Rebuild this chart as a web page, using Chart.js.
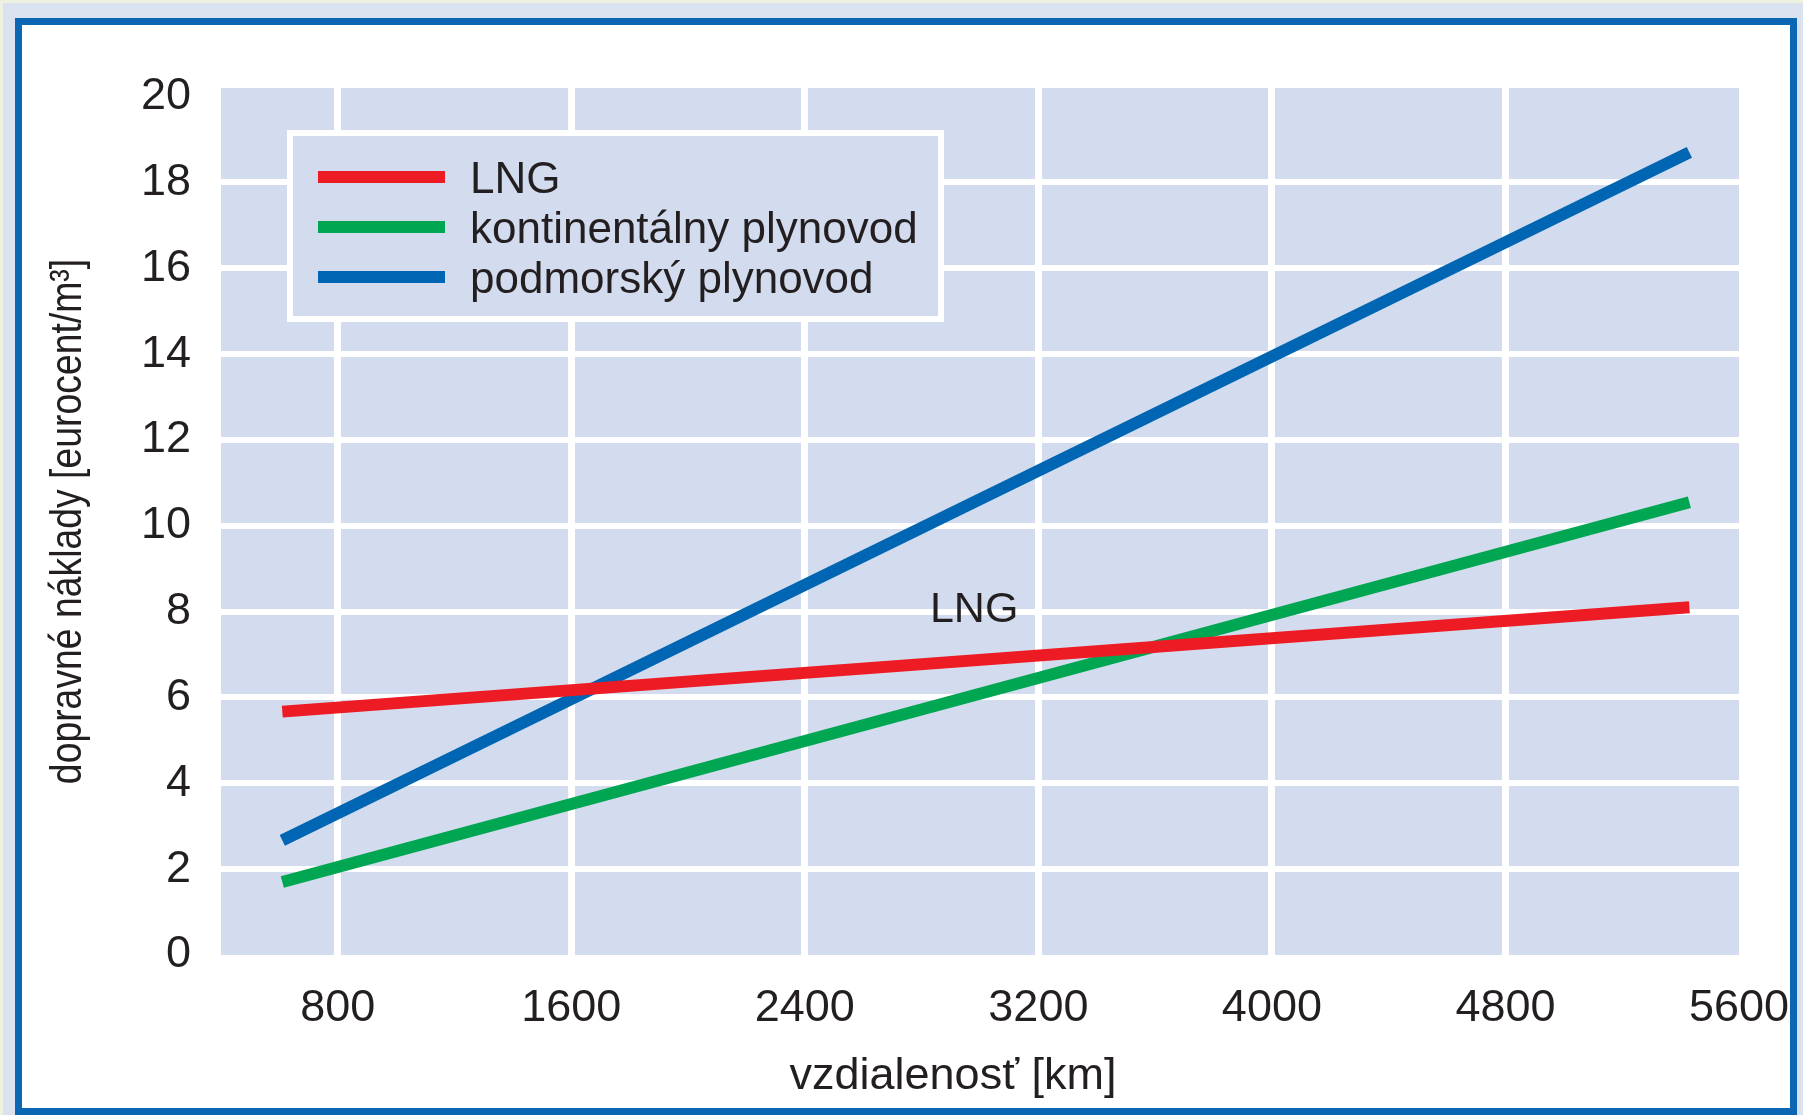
<!DOCTYPE html>
<html>
<head>
<meta charset="utf-8">
<script src="https://cdn.jsdelivr.net/npm/chart.js@4/dist/chart.umd.min.js"></script>
<style>
  html, body { margin: 0; padding: 0; width: 1803px; height: 1115px; overflow: hidden; background: #dbe2ef; }
  #strip-top { position: absolute; left: 0; top: 0; width: 1803px; height: 3px; background: #eef1df; }
  #strip-left { position: absolute; left: 0; top: 0; width: 3px; height: 1115px; background: #eef1df; }
  #frame { position: absolute; left: 15px; top: 18px; width: 1782px; height: 1097px; box-sizing: border-box;
           border: 7px solid #0b66b3; background: #ffffff; }
  #chart { display: block; }
</style>
</head>
<body>
<div id="strip-top"></div>
<div id="strip-left"></div>
<div id="frame"><canvas id="chart" width="1768" height="1083"></canvas></div>
<script>
// values
var distances = [610, 5430];
var lng = [5.67, 8.1];
var kontinentalny = [1.7, 10.55];
var podmorsky = [2.67, 18.7];

var series_labels = ['LNG', 'kontinentálny plynovod', 'podmorský plynovod'];
var series_colors = ['#ed1c24', '#00a651', '#0066b3'];

var x_ticks = [800, 1600, 2400, 3200, 4000, 4800, 5600];
var y_ticks = [0, 2, 4, 6, 8, 10, 12, 14, 16, 18, 20];

var lng_note = { text: 'LNG', x: 2980, y: 8.1 };
var x_title = 'vzdialenosť [km]';
var y_title = 'dopravné náklady [eurocent/m³]';

const plot_bg = '#d3dcee';
const text_color = '#231f20';
const base_font = "'Liberation Sans', Arial, sans-serif";

function to_points(values) {
    return values.map((v, i) => ({ x: distances[i], y: v }));
}

var datasets = [lng, kontinentalny, podmorsky].map((values, i) => ({
    label: series_labels[i],
    data: to_points(values),
    borderColor: series_colors[i],
    borderWidth: 12,
    borderCapStyle: 'butt',
    pointRadius: 0,
    tension: 0,
}));

// plot background, legend box, in-plot note and axis titles
const decor = {
    id: 'decor',
    beforeDraw(chart) {
        const {ctx, chartArea: a} = chart;
        ctx.save();
        ctx.fillStyle = plot_bg;
        ctx.fillRect(a.left, a.top, a.right - a.left, a.bottom - a.top);
        ctx.restore();
    },
    afterDatasetsDraw(chart) {
        const {ctx, chartArea: a, scales} = chart;
        ctx.save();

        // legend
        const lx = a.left + 66, ly = a.top + 42;
        ctx.fillStyle = plot_bg;
        ctx.fillRect(lx, ly, 657, 192);
        ctx.strokeStyle = '#ffffff';
        ctx.lineWidth = 6;
        ctx.strokeRect(lx + 3, ly + 3, 651, 186);
        ctx.font = '44px ' + base_font;
        ctx.textBaseline = 'alphabetic';
        ctx.textAlign = 'left';
        chart.data.datasets.forEach((ds, i) => {
            const cy = ly + 47 + i * 50;
            ctx.strokeStyle = ds.borderColor;
            ctx.lineWidth = 12;
            ctx.lineCap = 'butt';
            ctx.beginPath();
            ctx.moveTo(lx + 31, cy);
            ctx.lineTo(lx + 158, cy);
            ctx.stroke();
            ctx.fillStyle = text_color;
            ctx.fillText(ds.label, lx + 183, cy + 16);
        });

        // note on the red line
        ctx.font = '43px ' + base_font;
        ctx.textAlign = 'center';
        ctx.fillStyle = text_color;
        ctx.fillText(lng_note.text, scales.x.getPixelForValue(lng_note.x), scales.y.getPixelForValue(lng_note.y) + 15);

        // x axis title
        ctx.font = '45px ' + base_font;
        ctx.fillText(x_title, (a.left + a.right) / 2 - 27, chart.height - 19);

        // y axis title, condensed
        ctx.translate(47, (a.top + a.bottom) / 2);
        ctx.rotate(-Math.PI / 2);
        ctx.scale(0.83, 1);
        ctx.textBaseline = 'middle';
        ctx.fillText(y_title, 0, 0);
        ctx.restore();
    }
};

new Chart(document.getElementById('chart'), {
    type: 'line',
    data: { datasets: datasets },
    plugins: [decor],
    options: {
        responsive: false,
        animation: false,
        devicePixelRatio: 1,
        layout: { padding: { top: 63, right: 51, left: 0, bottom: 0 } },
        plugins: {
            legend: { display: false },
            tooltip: { enabled: false },
        },
        scales: {
            x: {
                type: 'linear',
                min: 400,
                max: 5600,
                afterBuildTicks: scale => { scale.ticks = x_ticks.map(v => ({ value: v })); },
                afterFit: scale => {
                    scale.height = 153;
                    scale.paddingLeft = 0;
                    scale.paddingRight = 0;
                },
                border: { display: false },
                grid: {
                    drawTicks: false,
                    lineWidth: 7,
                    color: c => (c.tick && c.tick.value >= 5600) ? 'rgba(0,0,0,0)' : '#ffffff',
                },
                ticks: {
                    padding: 27,
                    color: text_color,
                    font: { family: base_font, size: 45 },
                    maxRotation: 0,
                    autoSkip: false,
                    callback: v => String(v),
                },
            },
            y: {
                min: 0,
                max: 20.2,
                afterBuildTicks: scale => { scale.ticks = y_ticks.map(v => ({ value: v })); },
                afterFit: scale => { scale.width = 199; },
                border: { display: false },
                grid: {
                    drawTicks: false,
                    lineWidth: 6,
                    color: c => (c.tick && (c.tick.value <= 0 || c.tick.value >= 20)) ? 'rgba(0,0,0,0)' : '#ffffff',
                },
                ticks: {
                    padding: 30,
                    color: text_color,
                    font: { family: base_font, size: 45 },
                    autoSkip: false,
                    callback: v => String(v),
                },
            },
        },
    },
});
</script>
</body>
</html>
